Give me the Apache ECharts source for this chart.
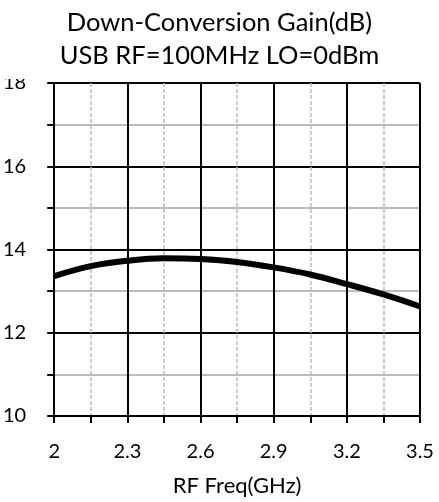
<!DOCTYPE html>
<html><head><meta charset="utf-8">
<script src="https://cdn.jsdelivr.net/npm/echarts@6/dist/echarts.min.js"></script>
<style>html,body{margin:0;padding:0;background:#fff}#c{width:439px;height:502px}</style>
</head><body><div id="c"></div>
<script>
const freqGHz = [2.0, 2.15, 2.3, 2.45, 2.6, 2.75, 2.9, 3.05, 3.2, 3.35, 3.5];
const gainDb = [13.36, 13.60, 13.73, 13.79, 13.77, 13.70, 13.57, 13.40, 13.17, 12.92, 12.63];
const titleLines = ['Down-Conversion Gain(dB)', 'USB RF=100MHz LO=0dBm'];
const xName = 'RF Freq(GHz)';
const FONT = 'Lato, "Liberation Sans", sans-serif';

const chart = echarts.init(document.getElementById('c'), null, {renderer: 'canvas'});
chart.setOption({
  animation: false,
  backgroundColor: '#fff',
  title: {
    text: titleLines.join('\n'),
    left: 'center',
    top: 6,
    padding: 0,
    textStyle: {fontFamily: FONT, fontSize: 25.5, fontWeight: 'normal', color: '#000', lineHeight: 33}
  },
  grid: {left: 54, right: 19, top: 83, bottom: 86, containLabel: false},
  xAxis: {
    type: 'value', min: 2, max: 3.5, interval: 0.3,
    name: xName, nameLocation: 'middle', nameGap: 59,
    nameTextStyle: {fontFamily: FONT, fontSize: 22, color: '#000'},
    axisLine: {show: true, lineStyle: {color: '#000', width: 2}},
    axisTick: {show: true, inside: false, length: 7, lineStyle: {color: '#000', width: 2}},
    minorTick: {show: true, splitNumber: 2, length: 7, lineStyle: {color: '#000', width: 2}},
    axisLabel: {fontFamily: FONT, fontSize: 20, color: '#000', margin: 26,
      formatter: v => String(Math.round(v * 10) / 10)},
    splitLine: {show: true, lineStyle: {color: '#000', width: 2}},
    minorSplitLine: {show: true, lineStyle: {color: '#bbb', width: 1.5, type: [4, 2]}}
  },
  yAxis: {
    type: 'value', min: 10, max: 18, interval: 2,
    axisLine: {show: true, lineStyle: {color: '#000', width: 2}},
    axisTick: {show: true, inside: false, length: 7, lineStyle: {color: '#000', width: 2}},
    minorTick: {show: true, splitNumber: 2, length: 7, lineStyle: {color: '#000', width: 2}},
    axisLabel: {fontFamily: FONT, fontSize: 20, color: '#000', margin: 28},
    splitLine: {show: true, lineStyle: {color: '#000', width: 2}},
    minorSplitLine: {show: true, lineStyle: {color: '#bbb', width: 2}}
  },
  graphic: [{
    type: 'rect', z: 100, left: 0, top: 0,
    shape: {x: 0, y: 0, width: 50, height: 79},
    style: {fill: '#fff'}
  }],
  series: [{
    type: 'line',
    data: freqGHz.map((f, i) => [f, gainDb[i]]),
    smooth: 0.4,
    showSymbol: false,
    lineStyle: {color: '#000', width: 6},
    z: 10
  }]
});
</script>
</body></html>
